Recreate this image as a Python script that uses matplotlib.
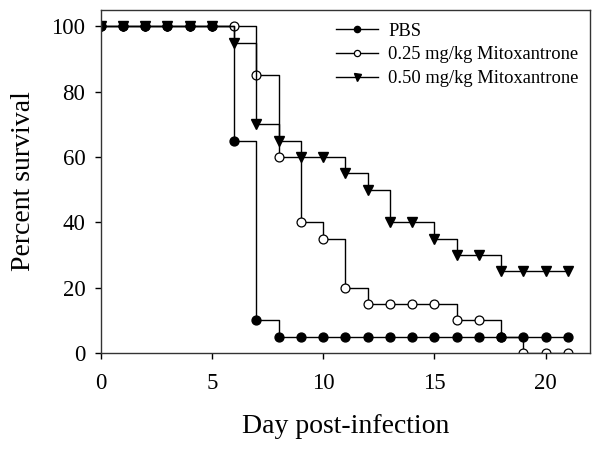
import numpy as np
import matplotlib.pyplot as plt

plt.rcParams['font.family'] = ['Liberation Serif', 'DejaVu Serif']

days = np.arange(0, 22)
pbs = [100, 100, 100, 100, 100, 100, 65, 10, 5, 5, 5, 5, 5, 5, 5, 5, 5, 5, 5, 5, 5, 5]
mito_025 = [100, 100, 100, 100, 100, 100, 100, 85, 60, 40, 35, 20, 15, 15, 15, 15, 10, 10, 5, 0, 0, 0]
mito_050 = [100, 100, 100, 100, 100, 100, 95, 70, 65, 60, 60, 55, 50, 40, 40, 35, 30, 30, 25, 25, 25, 25]

fig = plt.figure(figsize=(6.01, 4.5), dpi=100)
ax = fig.add_axes([0.1676, 0.2156, 0.8141, 0.7624])

l2, = ax.plot(days, mito_025, drawstyle='steps-post', color='black', lw=1,
              marker='o', markersize=6.4, markerfacecolor='white', markeredgecolor='black',
              markeredgewidth=0.9, label='0.25 mg/kg Mitoxantrone')
l1, = ax.plot(days, pbs, drawstyle='steps-post', color='black', lw=1,
              marker='o', markersize=6.4, markerfacecolor='black', label='PBS')
l3, = ax.plot(days, mito_050, drawstyle='steps-post', color='black', lw=1,
              marker='v', markersize=7.2, markerfacecolor='black', label='0.50 mg/kg Mitoxantrone')

ax.set_xlim(0, 22)
ax.set_ylim(0, 105)
ax.set_xticks([0, 5, 10, 15, 20])
ax.set_yticks([0, 20, 40, 60, 80, 100])
ax.tick_params(direction='out', length=4, width=1, labelsize=16.5)
ax.tick_params(axis='x', pad=10.5)
ax.tick_params(axis='y', pad=7)
for s in ax.spines.values():
    s.set_linewidth(1)
    s.set_color('#333333')

ax.set_xlabel('Day post-infection', fontsize=20, labelpad=14)
ax.set_ylabel('Percent survival', fontsize=20, labelpad=11)

ax.legend(handles=[l1, l2, l3], loc='upper right', bbox_to_anchor=(1.003, 1.0),
          frameon=False, fontsize=13.3, handlelength=2.3, handletextpad=0.55,
          labelspacing=0.36, markerscale=0.7, borderaxespad=0.3)

fig.savefig('out.png', dpi=100)
